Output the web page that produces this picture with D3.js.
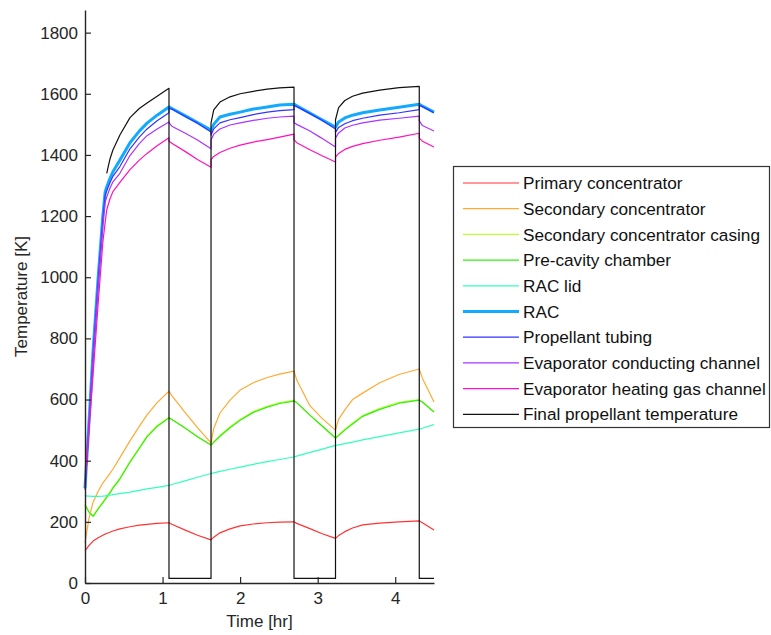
<!DOCTYPE html>
<html>
<head>
<meta charset="utf-8">
<script src="https://cdn.jsdelivr.net/npm/d3@7"></script>
<style>
  html, body { margin: 0; padding: 0; background: #fff; }
  svg { display: block; font-family: "Liberation Sans", Arial, Helvetica, sans-serif; }
</style>
</head>
<body>
<svg id="chart" width="771" height="635"></svg>
<script>
// Sample times [hr]; repeated times mark the instant of a sunlight/eclipse switch
const hours = [0, 0.05, 0.105, 0.17, 0.23, 0.26, 0.28, 0.32, 0.36, 0.45, 0.58, 0.7, 0.8, 0.93, 1.083,
  1.083, 1.12, 1.3, 1.45, 1.625,
  1.625, 1.66, 1.74, 1.87, 2.0, 2.17, 2.35, 2.51, 2.695,
  2.695, 2.73, 2.9, 3.05, 3.23,
  3.23, 3.27, 3.35, 3.45, 3.58, 3.8, 4.05, 4.31,
  4.31, 4.35, 4.5];

// Temperatures [K] at each sample time
const primaryConcentrator = [105, 122, 137, 148, 156, 160, 162, 166, 170, 177, 184, 189, 192, 195, 197,
  197, 192, 172, 156, 141,
  141, 150, 164, 177, 187, 193, 197, 199, 200,
  200, 195, 178, 162, 146,
  146, 155, 168, 180, 190, 196, 200, 203,
  203, 197, 173];
const secondaryConcentrator = [131, 210, 265, 300, 327, 337, 344, 358, 372, 410, 465, 512, 550, 590, 627,
  627, 613, 555, 508, 458,
  458, 505, 556, 598, 631, 655, 672, 683, 693,
  693, 664, 580, 540, 500,
  500, 535, 566, 600, 621, 655, 682, 700,
  700, 670, 592];
const secondaryCasing = [258, 234, 220, 245, 265, 276, 283, 297, 313, 343, 398, 443, 481, 515, 542,
  540, 535, 505, 478, 451,
  451, 462, 483, 511, 535, 561, 578, 590, 597,
  595, 590, 549, 515, 474,
  474, 485, 503, 523, 548, 571, 591, 600,
  598, 592, 559];
const preCavityChamber = [255, 232, 218, 242, 262, 273, 280, 294, 310, 340, 395, 440, 478, 512, 540,
  540, 535, 505, 478, 451,
  451, 460, 480, 508, 532, 558, 575, 587, 595,
  595, 590, 549, 515, 474,
  474, 482, 500, 520, 545, 568, 588, 598,
  598, 592, 559];
const racLid = [285, 284, 283, 283, 284, 285, 286, 287, 289, 292, 297, 303, 308, 313, 319,
  319, 322, 335, 346, 358,
  358, 360, 365, 372, 379, 388, 397, 404, 412,
  412, 415, 427, 437, 450,
  450, 452, 456, 461, 468, 479, 491, 503,
  503, 506, 518];
const rac = [310, 520, 762, 1000, 1200, 1279, 1295, 1322, 1345, 1383, 1440, 1478, 1504, 1530, 1557,
  1557, 1552, 1527, 1506, 1481,
  1481, 1500, 1524, 1533, 1540, 1550, 1557, 1563, 1566,
  1566, 1561, 1537, 1516, 1491,
  1491, 1508, 1521, 1530, 1538, 1547, 1556, 1566,
  1566, 1560, 1540];
const propellantTubing = [305, 510, 750, 990, 1190, 1268, 1283, 1308, 1330, 1362, 1420, 1458, 1485, 1512, 1538,
  1552, 1550, 1525, 1504, 1475,
  1465, 1485, 1505, 1515, 1522, 1532, 1540, 1545, 1548,
  1562, 1558, 1535, 1514, 1485,
  1474, 1490, 1502, 1512, 1520, 1530, 1538, 1548,
  1562, 1558, 1538];
const evaporatorConducting = [315, 510, 740, 975, 1170, 1245, 1262, 1290, 1312, 1340, 1398, 1437, 1463, 1485, 1508,
  1505, 1494, 1470, 1449, 1420,
  1449, 1468, 1485, 1498, 1505, 1513, 1520, 1524, 1527,
  1505, 1500, 1478, 1455, 1426,
  1455, 1472, 1488, 1497, 1505, 1514, 1520, 1527,
  1512, 1496, 1478];
const evaporatorHeatingGas = [320, 494, 685, 915, 1115, 1180, 1220, 1255, 1280, 1310, 1352, 1383, 1405, 1430, 1456,
  1445, 1438, 1410, 1385, 1360,
  1385, 1395, 1408, 1422, 1432, 1442, 1450, 1458, 1468,
  1450, 1440, 1417, 1398, 1377,
  1393, 1405, 1418, 1428, 1437, 1448, 1458, 1471,
  1455, 1445, 1426];
// null where no propellant temperature is available yet
const finalPropellant = [null, null, null, null, null, null, 1340, 1385, 1416, 1465, 1522, 1552, 1570, 1592, 1618,
  15, 15, 15, 15, 15,
  1505, 1547, 1573, 1590, 1600, 1608, 1615, 1619, 1622,
  15, 15, 15, 15, 15,
  1515, 1555, 1578, 1592, 1602, 1612, 1620, 1624,
  15, 15, 15];

const seriesNames = ["Primary concentrator", "Secondary concentrator", "Secondary concentrator casing",
  "Pre-cavity chamber", "RAC lid", "RAC", "Propellant tubing", "Evaporator conducting channel",
  "Evaporator heating gas channel", "Final propellant temperature"];
const seriesValues = [primaryConcentrator, secondaryConcentrator, secondaryCasing, preCavityChamber, racLid,
  rac, propellantTubing, evaporatorConducting, evaporatorHeatingGas, finalPropellant];
const seriesColors = ["#ff3333", "#ffaa33", "#bbff33", "#33ee11", "#33ffbb", "#11aaff", "#3333ff", "#aa33ff", "#ff11bb", "#111111"];
const seriesWidths = [1.2, 1.2, 1.2, 1.2, 1.2, 3, 1.2, 1.2, 1.2, 1.2];

const xTicks = [0, 1, 2, 3, 4];
const yTicks = [0, 200, 400, 600, 800, 1000, 1200, 1400, 1600, 1800];

const svg = d3.select("#chart");
const plot = { left: 85, right: 434, top: 10, bottom: 583 };

const x = d3.scaleLinear().domain([0, 4.5]).range([plot.left, plot.right]);
const y = d3.scaleLinear().domain([0, 1874]).range([plot.bottom, plot.top]);

// Curves
const line = d3.line()
  .defined(d => d[1] !== null)
  .x(d => x(d[0]))
  .y(d => y(d[1]));

const curves = svg.append("g").attr("fill", "none").attr("stroke-linejoin", "round");
seriesValues.forEach((vals, i) => {
  curves.append("path")
    .datum(hours.map((t, k) => [t, vals[k]]))
    .attr("d", line)
    .attr("stroke", seriesColors[i])
    .attr("stroke-width", seriesWidths[i]);
});

// Axes (ticks point inward)
const axisColor = "#262626";
const yAxis = svg.append("g")
  .attr("transform", `translate(${plot.left},0)`)
  .call(d3.axisLeft(y).tickValues(yTicks).tickFormat(d3.format("d")).tickSizeInner(-6).tickSizeOuter(0).tickPadding(7));
const xAxis = svg.append("g")
  .attr("transform", `translate(0,${plot.bottom})`)
  .call(d3.axisBottom(x).tickValues(xTicks).tickFormat(d3.format("d")).tickSizeInner(-6).tickSizeOuter(0).tickPadding(9));
[yAxis, xAxis].forEach(g => {
  g.select(".domain").attr("stroke", axisColor).attr("stroke-width", 1.4);
  g.selectAll(".tick line").attr("stroke", axisColor).attr("stroke-width", 1.2);
  g.selectAll(".tick text").attr("fill", "#262626").style("font-size", "17px");
  g.attr("font-family", null);
});

// Axis titles
svg.append("text")
  .attr("x", (plot.left + plot.right) / 2)
  .attr("y", 627)
  .attr("text-anchor", "middle")
  .attr("fill", "#262626")
  .style("font-size", "17px")
  .text("Time [hr]");
svg.append("text")
  .attr("transform", `translate(27,${(plot.top + plot.bottom) / 2}) rotate(-90)`)
  .attr("text-anchor", "middle")
  .attr("fill", "#262626")
  .style("font-size", "17px")
  .text("Temperature [K]");

// Legend
const legend = svg.append("g");
legend.append("rect")
  .attr("x", 453.5).attr("y", 166.5)
  .attr("width", 316).attr("height", 261)
  .attr("fill", "#fff").attr("stroke", "#333").attr("stroke-width", 1.2);
seriesNames.forEach((name, i) => {
  const cy = 183 + i * 25.7;
  legend.append("line")
    .attr("x1", 463).attr("x2", 519)
    .attr("y1", cy).attr("y2", cy)
    .attr("stroke", seriesColors[i])
    .attr("stroke-width", seriesWidths[i]);
  legend.append("text")
    .attr("x", 523).attr("y", cy)
    .attr("dy", "0.36em")
    .attr("fill", "#111")
    .style("font-size", "17.2px")
    .text(name);
});
</script>
</body>
</html>
